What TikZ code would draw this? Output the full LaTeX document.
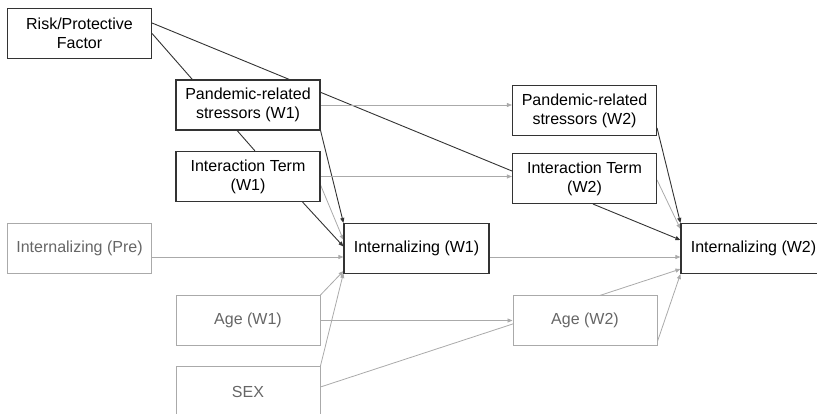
\documentclass[tikz,border=0pt]{standalone}
\usepackage{fontspec}
\setmainfont{Liberation Sans}
\usetikzlibrary{arrows.meta,backgrounds}
\definecolor{dk}{HTML}{333333}
\definecolor{lg}{HTML}{AAAAAA}
\definecolor{gtxt}{HTML}{666666}
\begin{document}
\begin{tikzpicture}[x=1pt,y=-1pt,
  box/.style={draw=dk,line width=1.1pt,fill=white,minimum width=144pt,minimum height=50pt,
    inner sep=2pt,align=center,font=\fontsize{16}{19}\selectfont,text=black},
  gbox/.style={box,draw=lg,line width=0.9pt,text=gtxt},
  blk/.style={draw=dk,line width=0.9pt},
  blka/.style={blk,-{Triangle[length=5pt,width=4pt]}},
  gry/.style={draw=lg,line width=0.8pt,-{Triangle[length=5pt,width=4pt]}}]
\useasboundingbox (0,0) rectangle (817,414);
\node[box] (risk) at (79.5,33.5) {Risk/Protective\\Factor};
\node[box] (p1) at (248,105) {Pandemic-related\\stressors (W1)};
\node[box] (i1) at (248,176.5) {Interaction Term\\(W1)};
\node[gbox] (pre) at (79.5,248.5) {Internalizing (Pre)};
\node[box,minimum width=145pt] (int1) at (416.5,248.5) {Internalizing (W1)};
\node[gbox] (age1) at (248,320.5) {Age (W1)};
\node[gbox] (sex) at (248,391.5) {SEX};
\node[box] (p2) at (584.5,110.5) {Pandemic-related\\stressors (W2)};
\node[box] (i2) at (584.5,178.5) {Interaction Term\\(W2)};
\node[box,minimum width=145pt] (int2) at (753.5,248.5) {Internalizing (W2)};
\node[gbox] (age2) at (585,320.5) {Age (W2)};
\begin{scope}[on background layer]
% black undirected lines (interaction)
\draw[blk] ([yshift=10.5pt]risk.east) -- ([yshift=7.5pt]i2.west);
\draw[blk] (risk.east) -- ([xshift=7pt]i1.north);
% black arrows
\draw[blka] (p1.south east) -- (int1.north west);
\draw[blka] ([xshift=-18pt]i1.south east) -- ([yshift=2pt]int1.west);
\draw[blka] ([yshift=-17.5pt]p2.east) -- (int2.north west);
\draw[blka] ([xshift=8.5pt]i2.south) -- ([yshift=8.5pt]int2.west);
% gray arrows
\draw[gry] (p1.east) -- (p1.east -| p2.west);
\draw[gry] (i1.east) -- (i1.east -| i2.west);
\draw[gry] ([yshift=-8.5pt]i1.east) -- ([yshift=-17pt]int1.north west);
\draw[gry] ([yshift=-8.5pt]pre.east) -- ([yshift=-8.5pt]pre.east -| int1.west);
\draw[gry] (age1.north east) -- ([yshift=3pt]int1.south west);
\draw[gry] (sex.north east) -- ([yshift=1pt]int1.south west);
\draw[gry] (age1.east) -- (age1.east -| age2.west);
\draw[gry] ([yshift=-8.5pt]int1.east) -- ([yshift=-8.5pt]int1.east -| int2.west);
\draw[gry] ([yshift=-1.5pt]i2.east) -- ([yshift=-6pt]int2.north west);
\draw[gry] ([yshift=4.5pt]sex.east) -- ([yshift=5pt]int2.south west);
\draw[gry] ([yshift=-21pt]age2.east) -- ([yshift=0pt]int2.south west);
\end{scope}
\end{tikzpicture}
\end{document}
